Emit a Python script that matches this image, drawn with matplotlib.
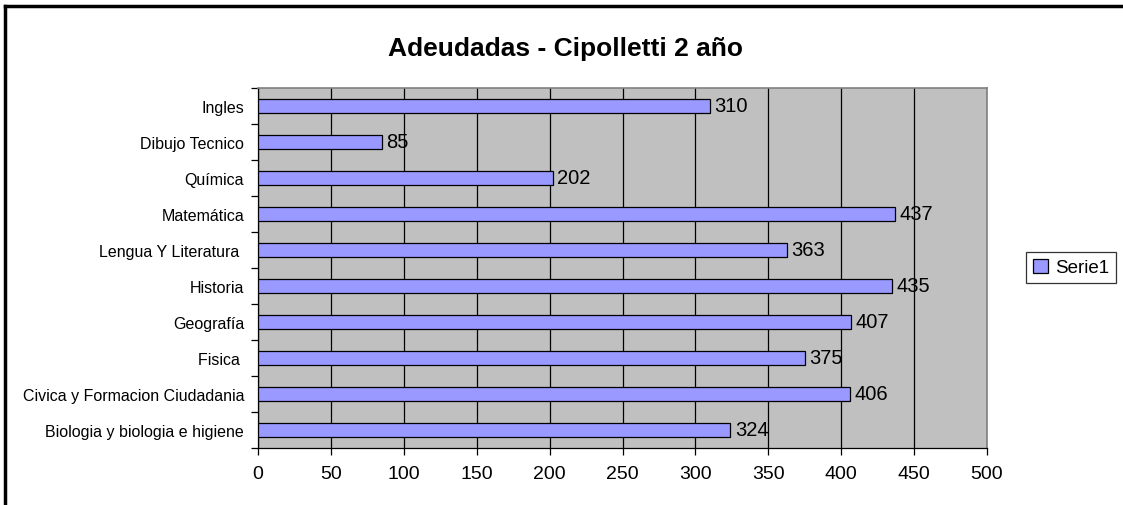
import numpy as np
import matplotlib.pyplot as plt
from matplotlib.lines import Line2D

plt.rcParams['font.family'] = ['Liberation Sans', 'DejaVu Sans']

materias = ['Biologia y biologia e higiene', 'Civica y Formacion Ciudadania', 'Fisica ',
            'Geografía', 'Historia', 'Lengua Y Literatura ', 'Matemática', 'Química',
            'Dibujo Tecnico', 'Ingles']
adeudadas = [324, 406, 375, 407, 435, 363, 437, 202, 85, 310]
xticks = [0, 50, 100, 150, 200, 250, 300, 350, 400, 450, 500]

fig = plt.figure(figsize=(11.23, 5.06), dpi=100)
ax = fig.add_axes([258/1123, 1-449/506, (987-258)/1123, (449-89)/506])

ax.set_facecolor('#C0C0C0')
pos = np.arange(len(materias))
bars = ax.barh(pos, adeudadas, height=0.4, color='#9999FF', edgecolor='black',
               linewidth=0.9, label='Serie1', zorder=3)
for p, v in zip(pos, adeudadas):
    ax.text(v + 3, p, str(v), va='center', ha='left', fontsize=14.5, zorder=4)

ax.set_xlim(0, 500)
ax.set_ylim(-0.5, len(materias) - 0.5)
ax.set_xticks(xticks)
ax.set_xticklabels([str(t) for t in xticks], fontsize=14)
ax.xaxis.grid(True, color='black', linewidth=0.9, zorder=1)
ax.tick_params(axis='x', direction='out', length=5, width=0.9, pad=7)

ax.set_yticks(pos)
ax.set_yticklabels(materias, fontsize=11.5)
ax.tick_params(axis='y', which='major', length=0, pad=10)
ax.set_yticks(np.arange(-0.5, len(materias), 1), minor=True)
ax.tick_params(axis='y', which='minor', direction='out', length=5, width=0.9)

for s in ['top', 'right']:
    ax.spines[s].set_color('#808080')
    ax.spines[s].set_linewidth(1.2)
for s in ['left', 'bottom']:
    ax.spines[s].set_color('black')
    ax.spines[s].set_linewidth(0.9)

fig.text(566/1123, 1-49/506, 'Adeudadas - Cipolletti 2 año', ha='center', va='center',
         fontsize=19, fontweight='bold')

leg = fig.legend(handles=[bars], loc='center', bbox_to_anchor=(1071/1123, 1-268.5/506),
                 fontsize=13.5, frameon=True, fancybox=False, edgecolor='black',
                 handlelength=0.8, handleheight=0.8, handletextpad=0.4, borderpad=0.35,
                 borderaxespad=0)
leg.get_frame().set_linewidth(0.9)

# outer chart border
fig.add_artist(Line2D([5/1123, 5/1123], [0, 1-7/506], color='black', linewidth=2.5,
                      transform=fig.transFigure))
fig.add_artist(Line2D([5/1123, 1], [1-7/506, 1-7/506], color='black', linewidth=2.5,
                      transform=fig.transFigure))

fig.savefig('out.png', dpi=100)
